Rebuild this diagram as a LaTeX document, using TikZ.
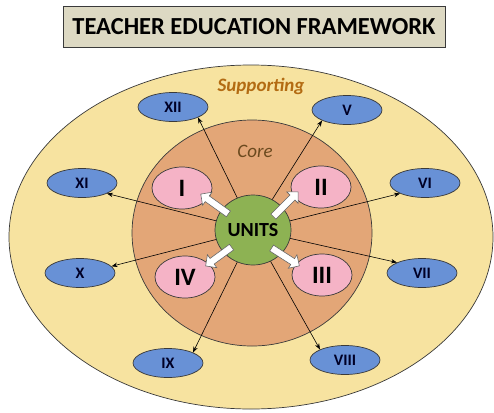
\documentclass[tikz,border=0pt]{standalone}
\usepackage{fontspec}
\setmainfont{Carlito}
\usetikzlibrary{shapes.geometric,shapes.arrows,arrows.meta}
\definecolor{titlefill}{HTML}{DDD9C3}
\definecolor{outerfill}{HTML}{F7E3A0}
\definecolor{corefill}{HTML}{E3A677}
\definecolor{pinkfill}{HTML}{F5B3C6}
\definecolor{bluefill}{HTML}{6891D6}
\definecolor{greenfill}{HTML}{8DB253}
\definecolor{supcol}{HTML}{B36B12}
\definecolor{corecol}{HTML}{6B4A1F}
\definecolor{edgecol}{HTML}{3A3A3A}
\begin{document}
\begin{tikzpicture}[x=1pt,y=-1pt,
  blueell/.style={ellipse, draw=edgecol, line width=0.7pt, fill=bluefill, minimum width=70pt, minimum height=29pt, inner sep=0pt, font=\fontsize{16}{18}\selectfont\bfseries, text=black!85!blue},
  pinkell/.style={ellipse, draw=edgecol, line width=0.7pt, fill=pinkfill, minimum width=60pt, minimum height=42pt, inner sep=0pt, font=\fontsize{25}{28}\selectfont\bfseries},
  conn/.style={-{Stealth[length=6pt,width=4.5pt]}, line width=0.6pt, black},
  blockarr/.style={single arrow, draw=gray!80!black, line width=0.6pt, fill=white, inner sep=3.2pt, single arrow head extend=4.5pt, single arrow head indent=0pt}
]
\useasboundingbox (0,0) rectangle (494,412);
% title
\node[draw=edgecol, line width=1pt, fill=titlefill, minimum width=382pt, minimum height=40pt, inner sep=0pt, font=\fontsize{24.5}{28}\selectfont\bfseries] (title) at (254,27) {TEACHER EDUCATION FRAMEWORK};
% outer and core
\node[ellipse, draw=edgecol, line width=0.7pt, fill=outerfill, minimum width=484pt, minimum height=344pt, inner sep=0pt] (outer) at (251,237) {};
\node[ellipse, draw=edgecol, line width=0.7pt, fill=corefill, minimum width=240pt, minimum height=226pt, inner sep=0pt] (core) at (252,233) {};
\node[font=\fontsize{19}{21}\selectfont\bfseries\itshape, text=supcol] (suplabel) at (261,86) {Supporting};
\node[font=\fontsize{19}{21}\selectfont\itshape, text=corecol] (corelabel) at (255,151) {Core};
% units
\node[ellipse, draw=edgecol, line width=0.7pt, fill=greenfill, minimum width=76pt, minimum height=70pt, inner sep=0pt, font=\fontsize{20}{24}\selectfont\bfseries] (units) at (253,230) {UNITS};
% blue ellipses
\node[blueell] (xii) at (173,107) {XII};
\node[blueell] (v) at (347,110) {V};
\node[blueell] (xi) at (82,183) {XI};
\node[blueell] (vi) at (425,183) {VI};
\node[blueell] (x) at (80,273) {X};
\node[blueell] (vii) at (422,273) {VII};
\node[blueell] (ix) at (168,363) {IX};
\node[blueell] (viii) at (345,360) {VIII};
% connectors
\draw[conn] (units) -- (xii.south east);
\draw[conn] (units) -- (v.south west);
\draw[conn] (units) -- (xi.south east);
\draw[conn] (units) -- (vi.south west);
\draw[conn] (units) -- (x.12);
\draw[conn] (units) -- (vii.north west);
\draw[conn] (units) -- (ix.north east);
\draw[conn] (units) -- (viii.north west);
% pink ellipses
\node[pinkell] (i) at (182,188) {I};
\node[pinkell] (ii) at (321,187) {II};
\node[pinkell] (iv) at (185,277) {IV};
\node[pinkell] (iii) at (322,275) {III};
% block arrows
\node[blockarr, minimum height=34pt, rotate=144.5] (arri) at (216,205) {};
\node[blockarr, minimum height=35pt, rotate=45] (arrii) at (284.5,205.5) {};
\node[blockarr, minimum height=32pt, rotate=-144] (arriv) at (220,255.5) {};
\node[blockarr, minimum height=33pt, rotate=-32.7] (arriii) at (284,256) {};
\end{tikzpicture}
\end{document}
